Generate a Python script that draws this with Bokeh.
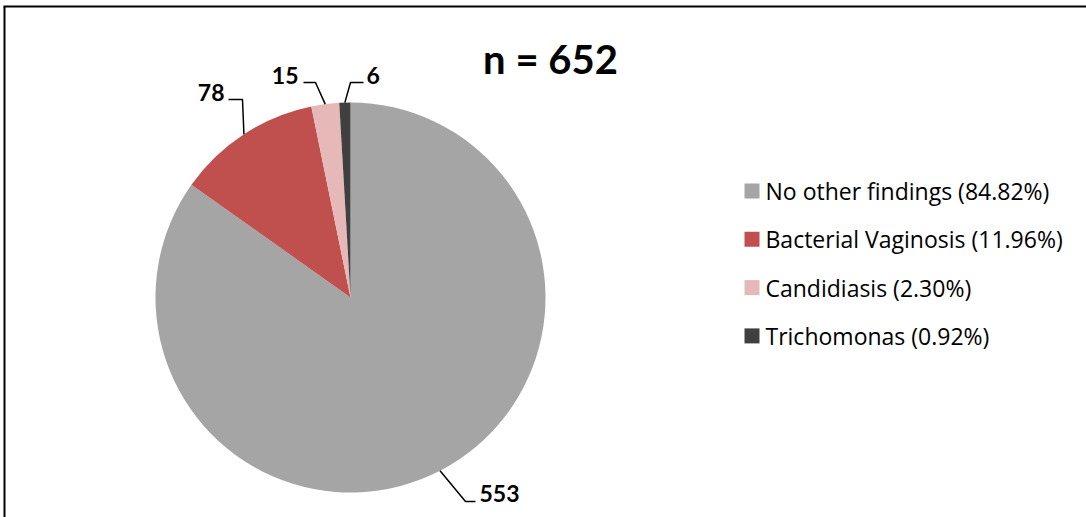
import math
from bokeh.plotting import figure
from bokeh.models import Range1d
from bokeh.core.properties import value
from bokeh.embed import file_html
from bokeh.resources import INLINE

# ---- data ----
categories = ["No other findings", "Bacterial Vaginosis", "Candidiasis", "Trichomonas"]
counts = [553, 78, 15, 6]
percent_labels = ["84.82%", "11.96%", "2.30%", "0.92%"]
colors = ["#A5A5A5", "#C0504D", "#E6B9B8", "#404040"]
title_text = "n = 652"

W, H = 1086, 517


def Y(py):
    return H - py


p = figure(width=W, height=H, x_range=Range1d(0, W), y_range=Range1d(0, H),
           output_backend="svg", toolbar_location=None, min_border=0,
           x_axis_type=None, y_axis_type=None)
p.grid.visible = False
p.outline_line_color = None
p.background_fill_color = "white"
p.border_fill_color = "white"

# ---- pie ----
cx, cy, R = 350, Y(297), 195
total = sum(counts)
starts, ends, mids = [], [], []
a = math.pi / 2
for c in counts:
    sweep = 2 * math.pi * c / total
    starts.append(a)
    ends.append(a - sweep)
    mids.append(a - sweep / 2)
    a -= sweep

p.wedge(x=[cx] * 4, y=[cy] * 4, radius=R, start_angle=starts, end_angle=ends,
        direction="clock", fill_color=colors, line_color=None)

# ---- leader lines ----
def edge(i):
    return cx + R * math.cos(mids[i]), cy + R * math.sin(mids[i])

xs, ys = [], []
# 553
ex, ey = edge(0)
xs.append([ex, 465, 475]); ys.append([ey, Y(501), Y(501)])
# 78
ex, ey = edge(1)
xs.append([ex, 242, 228]); ys.append([ey, Y(99), Y(99)])
# 15
ex, ey = edge(2)
xs.append([ex, 315, 303]); ys.append([ey, Y(82), Y(82)])
# 6
ex, ey = edge(3)
xs.append([ex, 350, 363]); ys.append([ey, Y(82), Y(82)])
p.multi_line(xs=xs, ys=ys, line_color="black", line_width=1.5)

# ---- data labels ----
lab_x = [479, 224, 298, 366]
lab_y = [Y(493), Y(92), Y(75), Y(75)]
lab_align = ["left", "right", "right", "left"]
for i in range(4):
    p.text(x=[lab_x[i]], y=[lab_y[i]], text=[str(counts[i])], text_align=lab_align[i],
           text_baseline="middle", text_font=value("Lato"), text_font_style="bold",
           text_font_size="23px", text_color="black")

# ---- title ----
p.text(x=[550], y=[Y(58)], text=[title_text], text_align="center", text_baseline="middle",
       text_font=value("Lato"), text_font_style="bold", text_font_size="40px",
       text_color="black")

# ---- legend ----
leg_y = [Y(190.5 + i * 48.3) for i in range(4)]
p.rect(x=[751.5] * 4, y=leg_y, width=15, height=15, fill_color=colors, line_color=None)
leg_text = [f"{c} ({pct})" for c, pct in zip(categories, percent_labels)]
p.text(x=[765] * 4, y=leg_y, text=leg_text, text_align="left", text_baseline="middle",
       text_font=value("Open Sans"), text_font_size="23px", text_color="black")

# ---- border (top and left) ----
p.multi_line(xs=[[3, W], [4, 4]], ys=[[Y(6), Y(6)], [Y(6), 0]],
             line_color="black", line_width=2)

open("out.html", "w").write(file_html(p, INLINE))
